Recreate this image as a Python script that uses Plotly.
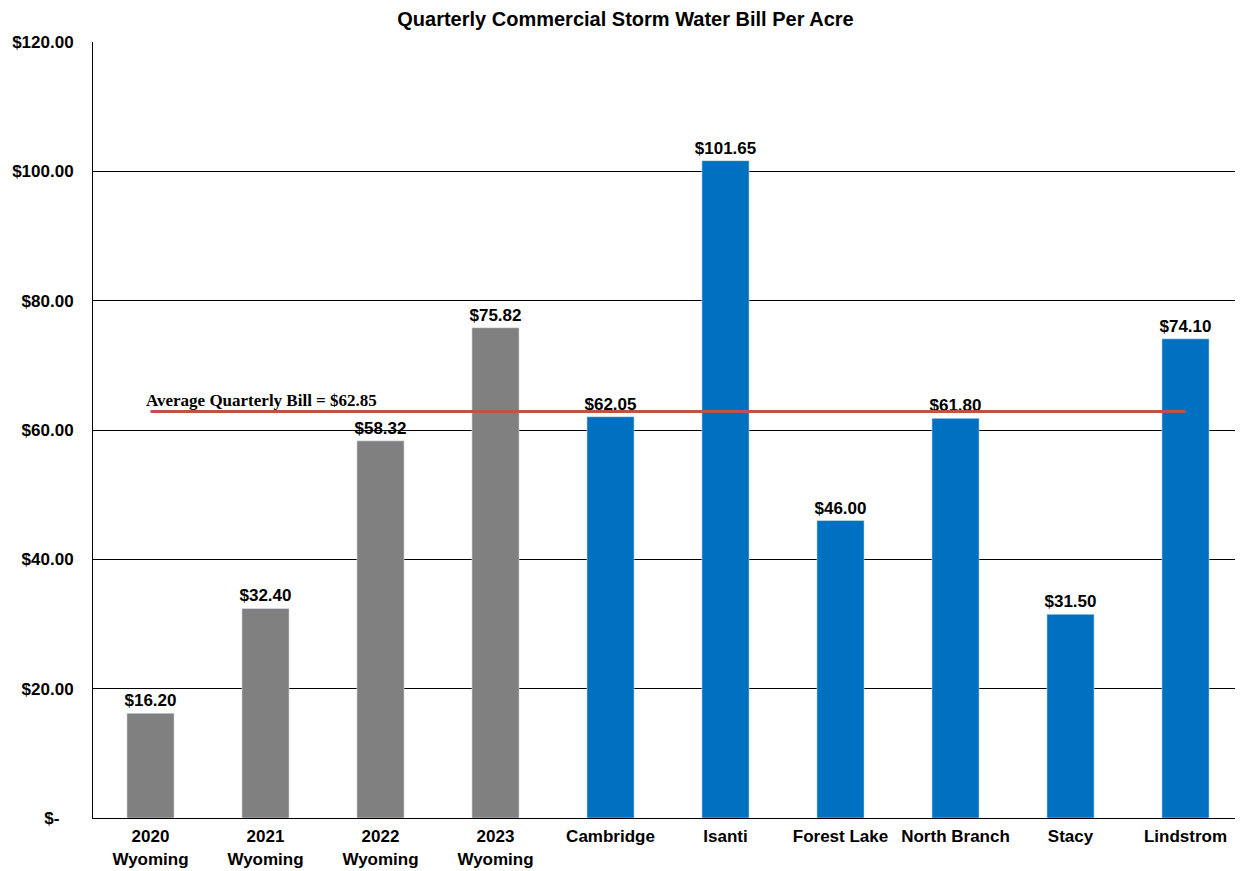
import plotly.graph_objects as go

categories = ["2020<br>Wyoming", "2021<br>Wyoming", "2022<br>Wyoming", "2023<br>Wyoming",
              "Cambridge", "Isanti", "Forest Lake", "North Branch", "Stacy", "Lindstrom"]
values = [16.20, 32.40, 58.32, 75.82, 62.05, 101.65, 46.00, 61.80, 31.50, 74.10]
bar_colors = ["#808080"] * 4 + ["#0070C0"] * 6
average = 62.85
y_tickvals = [0, 20, 40, 60, 80, 100, 120]
y_ticktext = ["$-\u00a0\u00a0\u00a0", "$20.00", "$40.00", "$60.00", "$80.00", "$100.00", "$120.00"]

FONT = "Arial, Liberation Sans, sans-serif"

fig = go.Figure()
fig.add_trace(go.Bar(
    x=categories, y=values, marker_color=bar_colors, width=0.41,
    text=[f"<b>${v:,.2f}</b>" for v in values], textposition="outside",
    textfont=dict(family=FONT, size=17, color="black"),
    constraintext="none", cliponaxis=False, showlegend=False,
))
fig.add_trace(go.Scatter(
    x=categories, y=[average] * len(categories), mode="lines",
    line=dict(color="#C0504D", width=3), showlegend=False,
))
fig.add_annotation(
    x=0, y=average, xref="x", yref="y", xanchor="left", yanchor="bottom",
    xshift=-7, yshift=0,
    text=f"<b>Average Quarterly Bill = ${average:.2f}</b>", showarrow=False,
    font=dict(family="Liberation Serif, Times New Roman, serif", size=17, color="black"),
)
fig.update_layout(
    width=1235, height=863,
    margin=dict(l=85, r=0, t=34, b=53),
    plot_bgcolor="white", paper_bgcolor="white",
    title=dict(text="<b>Quarterly Commercial Storm Water Bill Per Acre</b>",
               x=0.5, xanchor="center", y=0.9875, yanchor="middle",
               font=dict(family=FONT, size=20, color="black")),
    font=dict(family=FONT, color="black"),
)
fig.update_xaxes(
    showline=True, linecolor="black", linewidth=1, showgrid=False,
    tickfont=dict(family=FONT, size=17, color="black"),
    ticks="", ticklabelstandoff=3, automargin=False,
    tickprefix="<b>", ticksuffix="</b>",
)
fig.update_yaxes(
    range=[0, 120], tickvals=y_tickvals, ticktext=[f"<b>{t}</b>" for t in y_ticktext],
    showgrid=True, gridcolor="black", gridwidth=1,
    showline=True, linecolor="black", linewidth=1, zeroline=False,
    tickfont=dict(family=FONT, size=17, color="black"),
    ticks="", ticklabelstandoff=15, automargin=False,
)
fig.write_html("out.html")
